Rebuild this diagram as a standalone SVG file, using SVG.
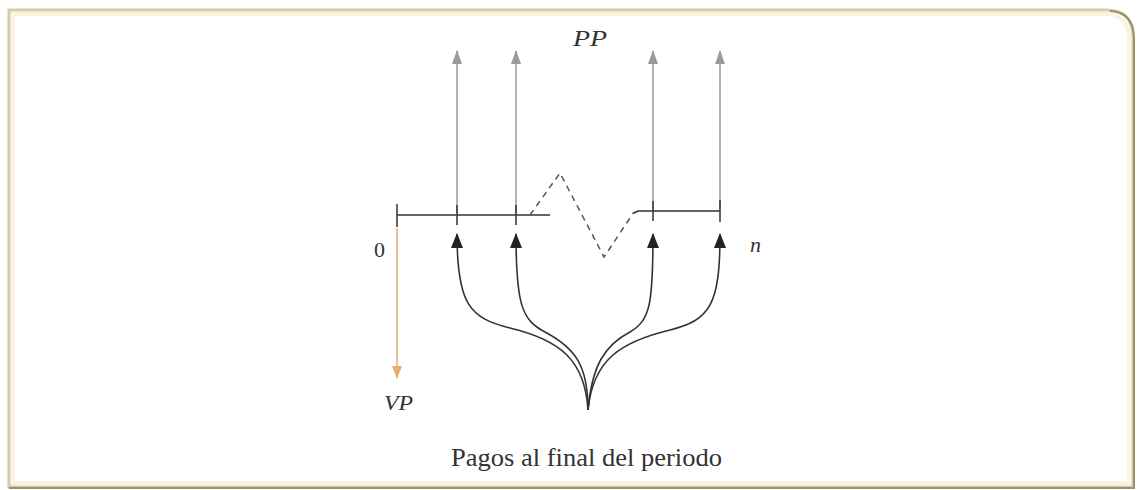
<svg xmlns="http://www.w3.org/2000/svg" width="1138" height="490" viewBox="0 0 1138 490">
  <defs>
    <style>
      .frame { fill: #ffffff; stroke: #d6cba2; stroke-width: 3; }
      .inner { fill: none; stroke: #f8f4e2; stroke-width: 4; }
      .shade { fill: none; stroke: #9c8e6c; stroke-width: 2; }
      .axis { stroke: #333333; stroke-width: 1.5; fill: none; }
      .dash { stroke: #555555; stroke-width: 1.5; fill: none; stroke-dasharray: 6 5; }
      .up { stroke: #9a9a9a; stroke-width: 1.5; fill: none; marker-end: url(#grayHead); }
      .curve { stroke: #333333; stroke-width: 1.6; fill: none; marker-end: url(#blackHead); }
      .vp { stroke: #e8ad72; stroke-width: 1.5; fill: none; marker-end: url(#orangeHead); }
      .lbl { font-family: "Liberation Serif", serif; font-size: 21px; fill: #333333; }
      .ital { font-style: italic; }
    </style>
    <marker id="grayHead" markerWidth="14" markerHeight="10" refX="13" refY="5" orient="auto" markerUnits="userSpaceOnUse" viewBox="0 0 14 10">
      <path d="M0,0 L14,5 L0,10 Z" fill="#9a9a9a"/>
    </marker>
    <marker id="blackHead" markerWidth="15" markerHeight="12" refX="14" refY="6" orient="auto" markerUnits="userSpaceOnUse" viewBox="0 0 15 12">
      <path d="M0,0 L15,6 L0,12 Z" fill="#222222"/>
    </marker>
    <marker id="orangeHead" markerWidth="13" markerHeight="10" refX="12" refY="5" orient="auto" markerUnits="userSpaceOnUse" viewBox="0 0 13 10">
      <path d="M0,0 L13,5 L0,10 Z" fill="#e8ad72"/>
    </marker>
  </defs>

  <g id="frame">
    <path class="frame" d="M9,10 L1106,10 Q1133,10 1133,37 L1133,487 L9,487 Z"/>
    <path class="inner" d="M13,14 L1104,14 Q1129,14 1129,39 L1129,483 L13,483 Z"/>
    <path class="shade" d="M1110,11 Q1133,12 1134,37 L1134,488 L9,488"/>
  </g>

  <g id="connectors">
    <path class="up" d="M457,213 L457,51"/>
    <path class="up" d="M516,213 L516,51"/>
    <path class="up" d="M653,209 L653,51"/>
    <path class="up" d="M720,209 L720,51"/>
    <path class="curve" d="M588,410 C585,360 560,340 510,328 C470,318 457,305 457,234"/>
    <path class="curve" d="M588,410 C588,365 575,348 545,332 C522,320 516,305 516,234"/>
    <path class="curve" d="M588,410 C592,365 605,345 630,332 C650,320 653,305 653,234"/>
    <path class="curve" d="M588,410 C593,360 620,342 670,330 C710,320 720,305 720,234"/>
    <path class="vp" d="M397,228 L397,378"/>
  </g>

  <g id="timeline">
    <path class="axis" d="M397,215 L550,215"/>
    <path class="axis" d="M397,204 L397,227 M457,205 L457,225 M516,205 L516,225"/>
    <path class="dash" d="M530,215 L560,173 L604,257 L634,212"/>
    <path class="axis" d="M634,213 L638,211 L720,211"/>
    <path class="axis" d="M653,201 L653,221 M720,200 L720,222"/>
  </g>

  <g id="labels">
    <text class="lbl" x="374" y="257" style="font-size:22px">0</text>
    <text class="lbl ital" x="750" y="252" style="font-size:22px">n</text>
    <text class="lbl ital" x="573" y="46" style="font-size:23px" textLength="34" lengthAdjust="spacingAndGlyphs">PP</text>
    <text class="lbl ital" x="384" y="410" style="font-size:22px" textLength="29" lengthAdjust="spacingAndGlyphs">VP</text>
    <text class="lbl" x="451" y="466" style="font-size:25px" textLength="271" lengthAdjust="spacingAndGlyphs">Pagos al final del periodo</text>
  </g>
</svg>
